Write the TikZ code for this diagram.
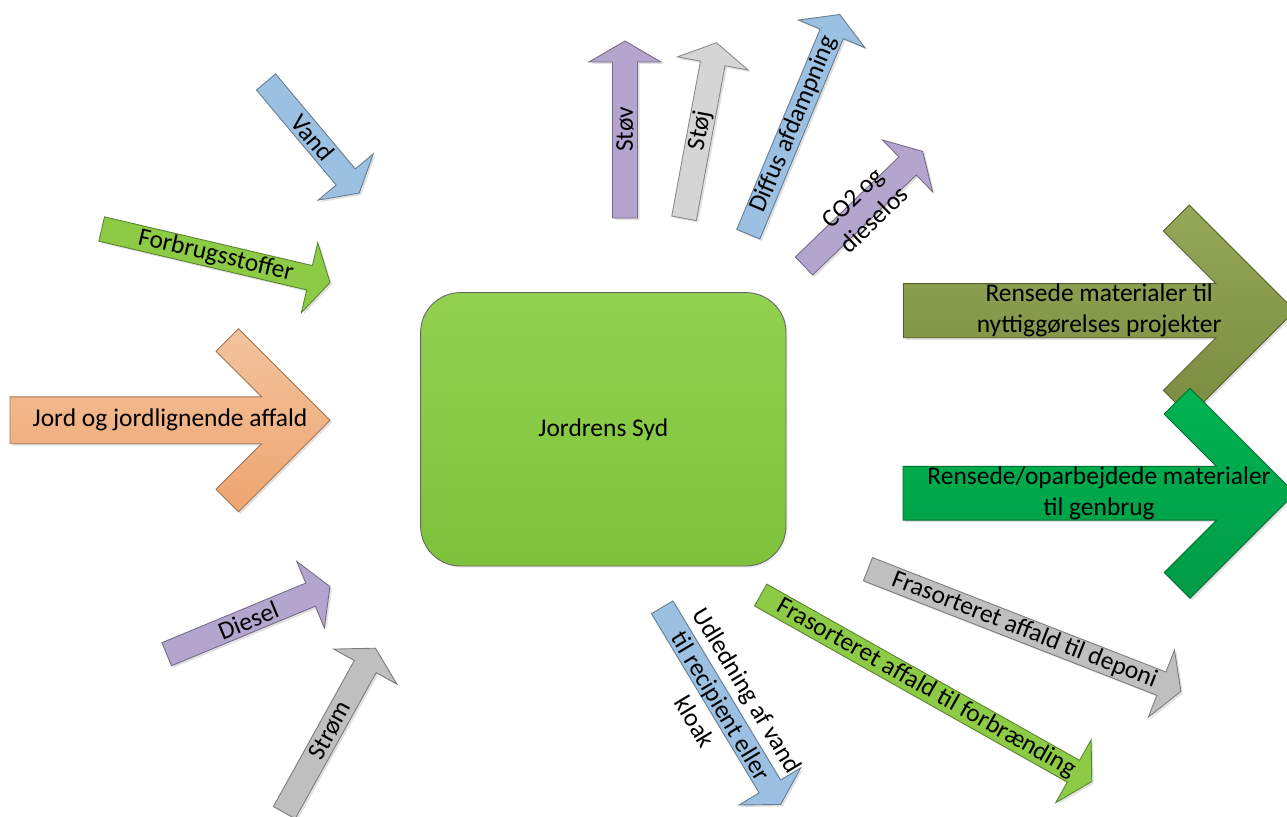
\documentclass[tikz,border=0pt]{standalone}
\usepackage{fontspec}
\setmainfont{Carlito}
\usetikzlibrary{shadows}

\definecolor{vandblue}{HTML}{9BC0E2}
\definecolor{limegreen}{HTML}{8DCB46}
\definecolor{lilac}{HTML}{B4A5CF}
\definecolor{midgray}{HTML}{BFBFBF}
\definecolor{lightgray}{HTML}{D5D5D5}
\definecolor{orangetop}{HTML}{F3C39D}
\definecolor{orangebot}{HTML}{EEA570}
\definecolor{olivetop}{HTML}{95A758}
\definecolor{olivebot}{HTML}{7B8C40}
\definecolor{greentop}{HTML}{00B452}
\definecolor{greenbot}{HTML}{009B45}
\definecolor{hubtop}{HTML}{93D151}
\definecolor{hubbot}{HTML}{7DC23A}

\tikzset{
  arrowshadow/.style={fill=black,opacity=0.12},
  flowline/.style={line width=0.5pt,line join=miter},
  flowtext/.style={font=\fontsize{14.5}{17.5}\selectfont,align=center,inner sep=0pt},
  hub/.style={draw=black!60,line width=0.5pt,rounded corners=0.8cm,
    minimum width=7.31cm,minimum height=5.47cm,top color=hubtop,bottom color=hubbot,
    font=\fontsize{14.5}{17.5}\selectfont,
    drop shadow={opacity=0.12,shadow xshift=0.04cm,shadow yshift=-0.04cm}},
}

% thin arrow along the x axis, tail at the origin, tip at x = #1
\newcommand{\thinoutline}[1]{(0,-12.5) -- ({#1-21},-12.5) -- ({#1-21},-36) -- (#1,0)
  -- ({#1-21},36) -- ({#1-21},12.5) -- (0,12.5) -- cycle}
% name, colour, tail x, tail y, angle, length, text
\newcommand{\flowarrow}[7]{%
  \fill[arrowshadow,shift={({#3+2},{#4+2})},rotate=#5] \thinoutline{#6};
  \begin{scope}[shift={(#3,#4)},rotate=#5]
    \draw[flowline,draw=#2!65!black,fill=#2] \thinoutline{#6};
    \node[flowtext,rotate=#5] (#1) at ({#6/2},0) {#7};
  \end{scope}}

% fat arrow with 45 degree barbs: tail x, centre y, tip x, head size
\newcommand{\fatoutline}[4]{(#1,{#2-0.256*#4}) -- ({#3-0.748*#4},{#2-0.256*#4})
  -- ({#3-1.246*#4},{#2-0.754*#4}) -- ({#3-#4},{#2-#4}) -- (#3,#2)
  -- ({#3-#4},{#2+#4}) -- ({#3-1.246*#4},{#2+0.754*#4})
  -- ({#3-0.748*#4},{#2+0.256*#4}) -- (#1,{#2+0.256*#4}) -- cycle}
% name, top colour, bottom colour, tail x, centre y, tip x, head size, text
\newcommand{\fatarrow}[8]{%
  \fill[arrowshadow,shift={(2,2)}] \fatoutline{#4}{#5}{#6}{#7};
  \draw[flowline,draw=#3!70!black,top color=#2,bottom color=#3] \fatoutline{#4}{#5}{#6}{#7};
  \node[flowtext] (#1) at ({(#4+#6)/2},#5) {#8};}

\begin{document}
\begin{tikzpicture}[x=0.02cm,y=-0.02cm]
  \useasboundingbox (0,0) rectangle (1287,817);
  \clip (0,0) rectangle (1287,817);

  % inputs
  \flowarrow{vand}{vandblue}{266}{82}{-50}{145}{Vand}
  \flowarrow{forbrug}{limegreen}{101.7}{229}{-13.2}{234.5}{Forbrugsstoffer}
  \fatarrow{jord}{orangetop}{orangebot}{10}{420.3}{330}{91.5}{Jord og jordlignende affald}
  \flowarrow{diesel}{lilac}{166.7}{654.2}{22.5}{176.7}{Diesel}
  \flowarrow{strom}{midgray}{284.3}{812.6}{61}{188}{Strøm}

  % the plant
  \node[hub] (plant) at (603.3,429.3) {Jordrens Syd};

  % emissions
  \flowarrow{stov}{lilac}{625}{218}{90}{177}{Støv}
  \flowarrow{stoj}{lightgray}{684}{218.3}{79.5}{178.5}{Støj}
  \flowarrow{diffus}{vandblue}{748.3}{234.2}{67.4}{238}{Diffus afdampning}
  \flowarrow{co2}{lilac}{804}{266}{44}{165}{CO2 og\\dieselos}

  % outputs
  \fatarrow{nytte}{olivetop}{olivebot}{903.3}{310.7}{1295}{105.7}{Rensede materialer til\\nyttiggørelses projekter}
  \fatarrow{genbrug}{greentop}{greenbot}{903}{493.3}{1295}{105}{Rensede/oparbejdede materialer\\til genbrug}
  \flowarrow{deponi}{midgray}{867.9}{569.2}{-21.3}{336}{Frasorteret affald til deponi}
  \flowarrow{forbr}{limegreen}{760.7}{595}{-29.4}{380}{Frasorteret affald til forbrænding}
  \flowarrow{udled}{vandblue}{662.2}{607.3}{-59}{230}{Udledning af vand\\til recipient eller\\kloak}
\end{tikzpicture}
\end{document}
